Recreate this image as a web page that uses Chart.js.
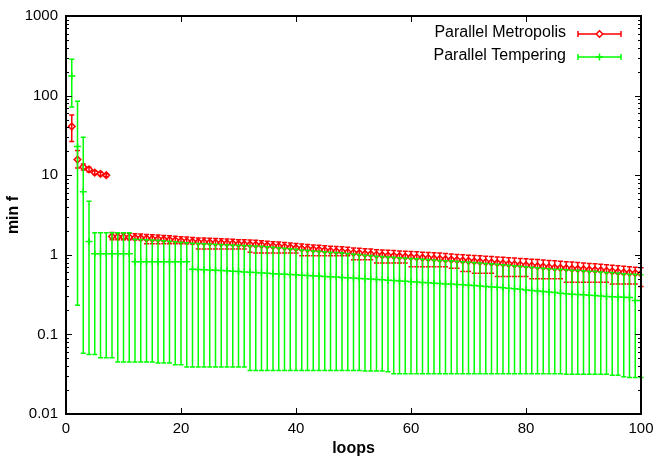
<!DOCTYPE html>
<html>
<head>
<meta charset="utf-8">
<script src="https://cdn.jsdelivr.net/npm/chart.js@4.4.1/dist/chart.umd.min.js"></script>
<style>
  body { margin: 0; background: #fff; }
  #wrap { width: 655px; height: 460px; }
</style>
</head>
<body>
<div id="wrap"><canvas id="grafico" width="655" height="460"></canvas></div>
<script>
// Datos
const loops = [
  1, 2, 3, 4, 5, 6, 7, 8, 9, 10,
  11, 12, 13, 14, 15, 16, 17, 18, 19, 20,
  21, 22, 23, 24, 25, 26, 27, 28, 29, 30,
  31, 32, 33, 34, 35, 36, 37, 38, 39, 40,
  41, 42, 43, 44, 45, 46, 47, 48, 49, 50,
  51, 52, 53, 54, 55, 56, 57, 58, 59, 60,
  61, 62, 63, 64, 65, 66, 67, 68, 69, 70,
  71, 72, 73, 74, 75, 76, 77, 78, 79, 80,
  81, 82, 83, 84, 85, 86, 87, 88, 89, 90,
  91, 92, 93, 94, 95, 96, 97, 98, 99, 100
];

// Parallel Metropolis
const metroMin = [
  41, 15.7, 12.7, 11.8, 10.8, 10.4, 10.0, 1.70, 1.68, 1.67,
  1.66, 1.64, 1.62, 1.60, 1.59, 1.58, 1.56, 1.54, 1.52, 1.50,
  1.48, 1.46, 1.45, 1.44, 1.43, 1.42, 1.41, 1.40, 1.39, 1.37,
  1.36, 1.35, 1.34, 1.33, 1.31, 1.29, 1.28, 1.26, 1.24, 1.22,
  1.20, 1.19, 1.17, 1.16, 1.14, 1.12, 1.11, 1.10, 1.08, 1.06,
  1.05, 1.03, 1.02, 1.00, 0.99, 0.98, 0.97, 0.96, 0.95, 0.94,
  0.93, 0.92, 0.91, 0.90, 0.89, 0.88, 0.87, 0.86, 0.85, 0.84,
  0.83, 0.82, 0.81, 0.80, 0.79, 0.78, 0.77, 0.76, 0.75, 0.74,
  0.73, 0.72, 0.71, 0.70, 0.69, 0.685, 0.68, 0.67, 0.665, 0.66,
  0.65, 0.645, 0.64, 0.63, 0.62, 0.61, 0.60, 0.595, 0.59, 0.58
];
const metroHigh = [
  57, 20.5, 13.8, 12.6, 11.4, 10.9, 10.4, 1.90, 1.88, 1.87,
  1.86, 1.84, 1.82, 1.80, 1.78, 1.77, 1.75, 1.73, 1.71, 1.69,
  1.67, 1.65, 1.63, 1.62, 1.61, 1.60, 1.59, 1.58, 1.57, 1.55,
  1.54, 1.53, 1.52, 1.50, 1.48, 1.46, 1.45, 1.43, 1.41, 1.39,
  1.37, 1.35, 1.33, 1.32, 1.30, 1.28, 1.27, 1.26, 1.24, 1.22,
  1.21, 1.19, 1.18, 1.16, 1.15, 1.14, 1.13, 1.12, 1.11, 1.10,
  1.09, 1.08, 1.07, 1.06, 1.05, 1.04, 1.02, 1.01, 1.00, 0.99,
  0.98, 0.97, 0.96, 0.95, 0.94, 0.93, 0.92, 0.91, 0.90, 0.89,
  0.88, 0.87, 0.86, 0.85, 0.84, 0.83, 0.82, 0.81, 0.80, 0.79,
  0.78, 0.77, 0.76, 0.75, 0.74, 0.73, 0.72, 0.71, 0.70, 0.69
];
const metroLow = [
  26.5, 12.3, 11.6, 11.0, 10.2, 9.9, 9.6, 1.55, 1.55, 1.55,
  1.55, 1.55, 1.55, 1.38, 1.38, 1.38, 1.38, 1.38, 1.38, 1.38,
  1.38, 1.38, 1.18, 1.18, 1.18, 1.18, 1.18, 1.18, 1.18, 1.18,
  1.18, 1.08, 1.05, 1.05, 1.05, 1.05, 1.05, 1.05, 1.05, 1.05,
  0.97, 0.97, 0.97, 0.97, 0.97, 0.97, 0.97, 0.97, 0.97, 0.865,
  0.865, 0.865, 0.865, 0.786, 0.786, 0.786, 0.786, 0.786, 0.786, 0.71,
  0.71, 0.71, 0.71, 0.71, 0.71, 0.71, 0.68, 0.68, 0.617, 0.617,
  0.588, 0.588, 0.588, 0.588, 0.533, 0.533, 0.533, 0.533, 0.533, 0.533,
  0.50, 0.50, 0.50, 0.50, 0.50, 0.50, 0.453, 0.453, 0.453, 0.453,
  0.453, 0.453, 0.453, 0.453, 0.43, 0.43, 0.43, 0.43, 0.43, 0.40
];

// Parallel Tempering
const temperMin = [
  176, 23, 6.2, 1.47, 1.03, 1.03, 1.03, 1.03, 1.03, 1.03,
  1.03, 0.82, 0.82, 0.82, 0.82, 0.82, 0.82, 0.82, 0.82, 0.82,
  0.82, 0.66, 0.655, 0.65, 0.645, 0.64, 0.635, 0.63, 0.62, 0.615,
  0.61, 0.605, 0.60, 0.59, 0.585, 0.58, 0.575, 0.57, 0.565, 0.56,
  0.555, 0.55, 0.545, 0.54, 0.535, 0.53, 0.525, 0.52, 0.515, 0.51,
  0.505, 0.50, 0.495, 0.49, 0.485, 0.48, 0.475, 0.47, 0.465, 0.46,
  0.455, 0.45, 0.445, 0.44, 0.435, 0.43, 0.43, 0.425, 0.42, 0.415,
  0.41, 0.405, 0.40, 0.395, 0.39, 0.385, 0.38, 0.375, 0.37, 0.36,
  0.355, 0.35, 0.345, 0.34, 0.335, 0.33, 0.325, 0.32, 0.318, 0.315,
  0.31, 0.307, 0.303, 0.30, 0.297, 0.295, 0.292, 0.29, 0.266, 0.266
];
const temperHigh = [
  286, 85, 30, 4.7, 1.89, 1.89, 1.89, 1.89, 1.89, 1.89,
  1.89, 1.57, 1.56, 1.54, 1.53, 1.52, 1.50, 1.48, 1.46, 1.44,
  1.42, 1.40, 1.39, 1.38, 1.37, 1.36, 1.35, 1.34, 1.33, 1.32,
  1.31, 1.30, 1.29, 1.28, 1.26, 1.24, 1.23, 1.21, 1.19, 1.17,
  1.15, 1.14, 1.12, 1.11, 1.09, 1.08, 1.07, 1.06, 1.04, 1.02,
  1.01, 0.99, 0.98, 0.96, 0.95, 0.94, 0.93, 0.92, 0.91, 0.90,
  0.89, 0.88, 0.87, 0.86, 0.85, 0.84, 0.84, 0.83, 0.82, 0.81,
  0.80, 0.79, 0.78, 0.77, 0.76, 0.75, 0.74, 0.73, 0.72, 0.71,
  0.70, 0.69, 0.68, 0.67, 0.66, 0.66, 0.65, 0.64, 0.64, 0.63,
  0.62, 0.62, 0.61, 0.60, 0.60, 0.59, 0.58, 0.57, 0.57, 0.56
];
const temperLow = [
  72, 0.232, 0.058, 0.056, 0.056, 0.051, 0.051, 0.051, 0.045, 0.045,
  0.045, 0.045, 0.045, 0.045, 0.045, 0.0436, 0.0436, 0.0436, 0.0417, 0.0417,
  0.039, 0.039, 0.039, 0.039, 0.039, 0.039, 0.039, 0.039, 0.039, 0.039,
  0.039, 0.0353, 0.0353, 0.0353, 0.0353, 0.0353, 0.0353, 0.0353, 0.0353, 0.0353,
  0.0353, 0.0353, 0.0353, 0.0353, 0.0353, 0.0353, 0.0353, 0.0353, 0.0353, 0.0353,
  0.0353, 0.0346, 0.0346, 0.0346, 0.0346, 0.034, 0.032, 0.032, 0.032, 0.032,
  0.032, 0.032, 0.032, 0.032, 0.032, 0.032, 0.032, 0.032, 0.032, 0.032,
  0.032, 0.032, 0.032, 0.032, 0.032, 0.032, 0.032, 0.032, 0.032, 0.032,
  0.032, 0.032, 0.032, 0.032, 0.032, 0.032, 0.0316, 0.0316, 0.0316, 0.0316,
  0.0316, 0.0316, 0.0316, 0.0316, 0.0306, 0.0306, 0.0294, 0.0287, 0.0287, 0.0287
];

// Ticks de los ejes
const xTicks = [0, 20, 40, 60, 80, 100];
const yTicks = [0.01, 0.1, 1, 10, 100, 1000];

const ROJO = '#ff0000';
const VERDE = '#00ff00';
const FUENTE = '"Liberation Sans", Arial, sans-serif';

function puntos(valores) {
  return loops.map((x, i) => ({ x: x, y: valores[i] }));
}

// Barras de error dibujadas antes de los puntos de cada serie
const barrasError = {
  id: 'barrasError',
  beforeDatasetDraw(chart, args) {
    const ds = chart.data.datasets[args.index];
    const { ctx, scales } = chart;
    ctx.save();
    ctx.strokeStyle = ds.borderColor;
    ctx.lineWidth = ds.anchoBarra;
    ctx.beginPath();
    for (let i = 0; i < ds.data.length; i++) {
      const px = scales.x.getPixelForValue(ds.data[i].x);
      const lo = scales.y.getPixelForValue(ds.bajos[i]);
      const hi = scales.y.getPixelForValue(ds.altos[i]);
      const c = ds.capa;
      ctx.moveTo(px, lo); ctx.lineTo(px, hi);
      ctx.moveTo(px - c, lo); ctx.lineTo(px + c, lo);
      ctx.moveTo(px - c, hi); ctx.lineTo(px + c, hi);
    }
    ctx.stroke();
    ctx.restore();
  }
};

// Marco, ticks interiores y leyenda estilo gnuplot
const marco = {
  id: 'marco',
  afterDatasetsDraw(chart) {
    const { ctx, chartArea: a, scales } = chart;
    ctx.save();
    ctx.strokeStyle = '#000';
    ctx.lineWidth = 1;
    ctx.beginPath();
    xTicks.forEach(v => {
      const px = Math.round(scales.x.getPixelForValue(v)) + 0.5;
      ctx.moveTo(px, a.bottom); ctx.lineTo(px, a.bottom - 6);
      ctx.moveTo(px, a.top); ctx.lineTo(px, a.top + 6);
    });
    yTicks.forEach((v, k) => {
      const py = Math.round(scales.y.getPixelForValue(v)) + 0.5;
      ctx.moveTo(a.left, py); ctx.lineTo(a.left + 6, py);
      ctx.moveTo(a.right, py); ctx.lineTo(a.right - 6, py);
      if (k < yTicks.length - 1) {
        for (let m = 2; m <= 9; m++) {
          const pm = Math.round(scales.y.getPixelForValue(v * m)) + 0.5;
          ctx.moveTo(a.left, pm); ctx.lineTo(a.left + 3, pm);
          ctx.moveTo(a.right, pm); ctx.lineTo(a.right - 3, pm);
        }
      }
    });
    ctx.stroke();
    ctx.lineWidth = 2;
    ctx.strokeRect(a.left, a.top, a.right - a.left, a.bottom - a.top);

    // Leyenda
    const filas = [34, 57];
    ctx.font = '16px ' + FUENTE;
    ctx.textAlign = 'right';
    ctx.textBaseline = 'middle';
    const orden = [1, 0];
    orden.forEach((idx, f) => {
      const ds = chart.data.datasets[idx];
      const y = filas[f];
      ctx.fillStyle = '#000';
      ctx.fillText(ds.label, 566, y - 1);
      ctx.strokeStyle = ds.borderColor;
      ctx.lineWidth = ds.anchoBarra;
      ctx.beginPath();
      ctx.moveTo(578, y); ctx.lineTo(621, y);
      ctx.moveTo(578, y - 3); ctx.lineTo(578, y + 3);
      ctx.moveTo(621, y - 3); ctx.lineTo(621, y + 3);
      ctx.stroke();
      ctx.fillStyle = '#fff';
      ctx.lineWidth = ds.borderWidth;
      Chart.helpers.drawPoint(ctx, { pointStyle: ds.pointStyle, radius: ds.pointRadius, rotation: 0, borderWidth: ds.borderWidth }, 599.5, y);
    });
    ctx.restore();
  }
};

Chart.defaults.font.family = FUENTE;
Chart.defaults.font.size = 15;
Chart.defaults.color = '#000';

const ctx = document.getElementById('grafico').getContext('2d');
const grafico = new Chart(ctx, {
  type: 'scatter',
  data: {
    datasets: [
      {
        label: 'Parallel Tempering',
        data: puntos(temperMin),
        altos: temperHigh,
        bajos: temperLow,
        borderColor: VERDE,
        backgroundColor: VERDE,
        pointStyle: 'cross',
        pointRadius: 3.5,
        borderWidth: 1.5,
        anchoBarra: 1.5,
        capa: 2.5,
        order: 1,
      },
      {
        label: 'Parallel Metropolis',
        data: puntos(metroMin),
        altos: metroHigh,
        bajos: metroLow,
        borderColor: ROJO,
        backgroundColor: 'rgba(255,255,255,0)',
        pointStyle: 'rectRot',
        pointRadius: 3.3,
        borderWidth: 1.5,
        anchoBarra: 1.5,
        capa: 2.5,
        order: 2,
      },
    ],
  },
  options: {
    responsive: false,
    animation: false,
    events: [],
    layout: { padding: { top: 16, right: 14, left: 0, bottom: 0 } },
    plugins: {
      legend: { display: false },
      tooltip: { enabled: false },
    },
    scales: {
      x: {
        type: 'linear',
        min: 0,
        max: 100,
        afterBuildTicks: (s) => { s.ticks = xTicks.map(v => ({ value: v })); },
        afterFit: (s) => { s.height = 46; s.paddingLeft = 0; s.paddingRight = 0; },
        grid: { display: false, drawTicks: false },
        border: { display: false },
        ticks: { padding: 6, autoSkip: false, maxRotation: 0 },
        title: { display: true, text: 'loops', font: { size: 16, weight: 'bold' }, padding: { top: 0, bottom: 2 } },
      },
      y: {
        type: 'logarithmic',
        min: 0.01,
        max: 1000,
        afterBuildTicks: (s) => { s.ticks = yTicks.map(v => ({ value: v })); },
        afterFit: (s) => { s.width = 66; s.paddingTop = 0; s.paddingBottom = 0; },
        grid: { display: false, drawTicks: false },
        border: { display: false },
        ticks: { padding: 8, autoSkip: false, callback: (v) => String(v) },
        title: { display: true, text: 'min f', font: { size: 16, weight: 'bold' }, padding: { top: 4, bottom: 0 } },
      },
    },
  },
  plugins: [barrasError, marco],
});
</script>
</body>
</html>
